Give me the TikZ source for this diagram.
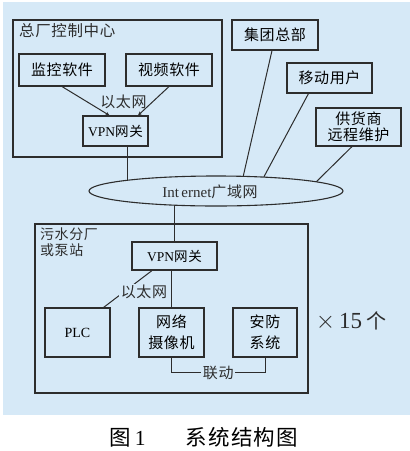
\documentclass[tikz,border=0pt]{standalone}
\usepackage{fontspec}
\setmainfont{Liberation Serif}
\newfontfamily\cjk{Noto Sans CJK SC}[LetterSpace=4]
\newfontfamily\cjkcap{Noto Sans CJK SC}[LetterSpace=6]
\usetikzlibrary{shapes.geometric,arrows.meta,calc}
\definecolor{bgc}{RGB}{214,233,247}
\definecolor{ink}{RGB}{45,45,45}
\pgfdeclarelayer{bglayer}
\pgfdeclarelayer{linelayer}
\pgfsetlayers{bglayer,linelayer,main}
\newcommand\cjkbox{\cjk\fontsize{15}{17}\selectfont}
\newcommand\cjksmall{\cjk\fontsize{14}{16}\selectfont}
\begin{document}
\begin{tikzpicture}[x=1pt,y=-1pt,
  box/.style={draw=ink,line width=1.1pt,inner sep=0pt,align=center,font=\cjkbox},
  frame/.style={draw=ink,line width=1.1pt,inner sep=0pt},
  lbl/.style={inner sep=1pt,font=\cjkbox,text=ink},
  lblfill/.style={inner sep=1.5pt,font=\cjkbox,text=ink,fill=bgc},
  conn/.style={draw=ink,line width=1pt},
  arr/.style={conn,-{Stealth[length=4pt,width=3.5pt]}}]
\useasboundingbox (0,0) rectangle (410,451);
\begin{pgfonlayer}{bglayer}
  \fill[white] (0,0) rectangle (410,451);
  \fill[bgc] (3,2) rectangle (410,415);
\end{pgfonlayer}

% top: control centre
\node[frame,minimum width=209pt,minimum height=137pt] (c1) at (117.5,88.5) {};
\node[lbl,anchor=west] (t1) at (18,31) {\cjk\fontsize{15.5}{17}\selectfont 总厂控制中心};
\node[box,minimum width=86pt,minimum height=32pt] (m1) at (62,70) {监控软件};
\node[box,minimum width=86pt,minimum height=32pt] (v1) at (169,70) {视频软件};
\node[lbl] (eth1) at (123.5,102) {以太网};
\node[box,minimum width=65pt,minimum height=30pt] (vpn1) at (115.5,131) {\fontsize{13.5}{15}\selectfont\rmfamily VPN\cjk 网关};

% right boxes
\node[box,minimum width=86pt,minimum height=30pt] (g1) at (275,35) {集团总部};
\node[box,minimum width=85pt,minimum height=30pt] (g2) at (329.5,78) {移动用户};
\node[box,minimum width=85pt,minimum height=38pt,font=\cjk\fontsize{15}{15.5}\selectfont] (g3) at (358.5,127) {供货商\\远程维护};

% internet
\node[draw=ink,line width=1.1pt,fill=bgc,ellipse,inner sep=0pt,minimum width=254pt,minimum height=30pt] (inet) at (216,191) {};
\node[lbl] (inettext) at (210,192) {\fontsize{15}{17}\selectfont\rmfamily Int\,ernet\cjk 广域网};

% bottom: sub-plant
\node[frame,minimum width=273pt,minimum height=169pt] (c2) at (171.5,308.5) {};
\node[lbl,anchor=north west,align=left,font=\cjksmall] (t2) at (39,227) {污水分厂\\或泵站};
\node[box,minimum width=85pt,minimum height=28pt] (vpn2) at (174.5,256) {\fontsize{13.5}{15}\selectfont\rmfamily VPN\cjk 网关};
\node[box,minimum width=65pt,minimum height=49pt,font=\rmfamily\fontsize{14}{16}\selectfont] (plc) at (77.5,332.5) {PLC};
\node[box,minimum width=65pt,minimum height=49pt,font=\cjk\fontsize{15}{21}\selectfont] (cam) at (171.5,332.5) {网络\\摄像机};
\node[box,minimum width=64pt,minimum height=49pt,font=\cjk\fontsize{15}{21}\selectfont] (sec) at (265,332.5) {安防\\系统};
\node[lblfill] (eth2) at (144,292) {以太网};
\node[lbl] (x15) at (351,321) {\rmfamily\fontsize{23}{25}\selectfont$\times$\,15\,\cjk\fontsize{20}{22}\selectfont 个};

% caption
\node[lbl,text=black] (cap) at (204,437) {\cjkcap\fontsize{21.5}{24}\selectfont 图\,{\rmfamily 1}\hspace{40pt}系统结构图};

% coordinates inside the ellipse
\coordinate (e1) at (241,186);
\coordinate (e2) at (259,186);
\coordinate (e3) at (312,186);

\begin{pgfonlayer}{linelayer}
  \draw[arr] (m1.south) -- ([xshift=-6pt]vpn1.north);
  \draw[arr] (v1.south) -- ([xshift=22.5pt]vpn1.north);
  \draw[conn] ([xshift=12pt]vpn1.south) -- ([xshift=12pt]vpn1.south |- inet.center);
  \draw[conn] ([xshift=-3pt]g1.south) -- (e1);
  \draw[conn] ([xshift=-21pt]g2.south) -- (e2);
  \draw[conn] ([xshift=-6.5pt]g3.south) -- (e3);
  \draw[conn] (vpn2.north) -- (vpn2.north |- inet.center);
  \draw[conn] ([xshift=-22.5pt]vpn2.south) -- ([xshift=-7pt]plc.north east);
  \draw[conn] (cam.north |- vpn2.south) -- (cam.north);
  \draw[conn] (cam.south) -- ++(0,15) coordinate (lk) -| (sec.south);
\end{pgfonlayer}
\node[lblfill] (link) at ($(lk)!0.5!(lk -| sec.south)$) {联动};
\end{tikzpicture}
\end{document}
